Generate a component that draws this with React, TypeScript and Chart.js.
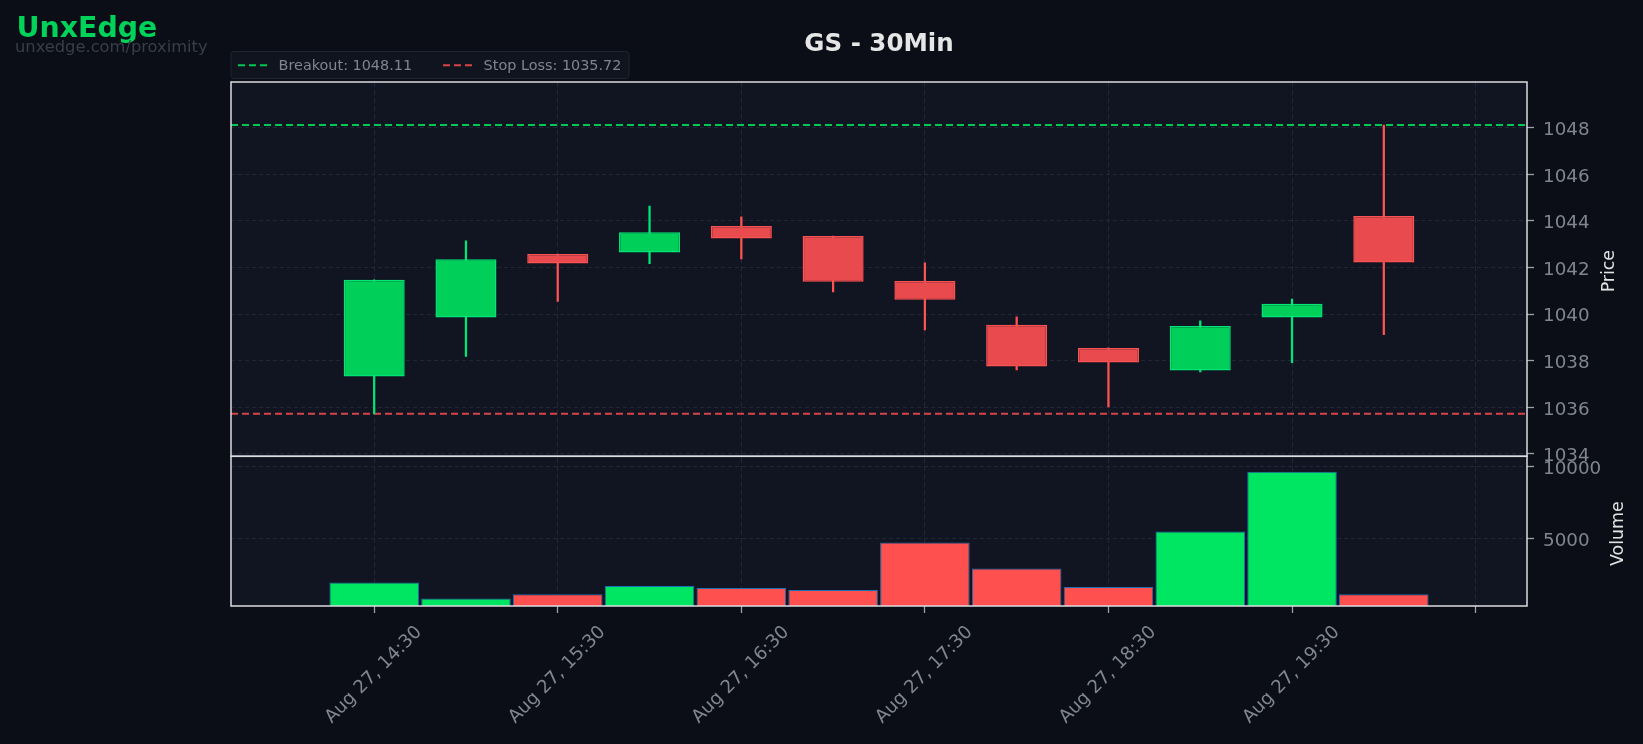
import React, { useEffect, useRef } from 'react';
import { Chart, registerables } from 'chart.js';

Chart.register(...registerables);

// ---- data ----
const categories = [
  'Aug 27, 14:30', 'Aug 27, 15:00', 'Aug 27, 15:30', 'Aug 27, 16:00',
  'Aug 27, 16:30', 'Aug 27, 17:00', 'Aug 27, 17:30', 'Aug 27, 18:00',
  'Aug 27, 18:30', 'Aug 27, 19:00', 'Aug 27, 19:30', 'Aug 27, 20:00',
];
const opens = [1037.32, 1039.85, 1042.58, 1042.64, 1043.78, 1043.35, 1041.42, 1039.54, 1038.55, 1037.58, 1039.85, 1044.21];
const highs = [1041.47, 1043.14, 1042.58, 1044.64, 1044.17, 1043.35, 1042.2, 1039.88, 1038.55, 1039.71, 1040.65, 1048.11];
const lows = [1035.72, 1038.18, 1040.54, 1042.17, 1042.37, 1040.95, 1039.32, 1037.61, 1036.02, 1037.52, 1037.92, 1039.12];
const closes = [1041.47, 1042.35, 1042.17, 1043.51, 1043.24, 1041.39, 1040.62, 1037.75, 1037.92, 1039.49, 1040.44, 1042.21];
const volumes = [1970, 860, 1140, 1715, 1575, 1440, 4750, 2945, 1645, 5515, 9675, 1140];

const tickPositions = [0, 2, 4, 6, 8, 10, 12];
const tickLabels = ['Aug 27, 14:30', 'Aug 27, 15:30', 'Aug 27, 16:30', 'Aug 27, 17:30', 'Aug 27, 18:30', 'Aug 27, 19:30', ''];
const priceTicks = [1034, 1036, 1038, 1040, 1042, 1044, 1046, 1048];
const volumeTicks = [5000, 10000];
const breakout = 1048.11;
const stopLoss = 1035.72;
const chartTitle = 'GS - 30Min';
const brand = 'UnxEdge';
const brandUrl = 'unxedge.com/proximity';

// ---- style ----
const W = 1643;
const H = 744;
const FONT = '"DejaVu Sans", "Noto Sans", sans-serif';
const BG = '#0b0e17';
const PANEL = '#111522';
const GRID = '#222736';
const TICK_TEXT = '#80858f';
const FRAME = '#dcdde0';
const GREEN_FILL = '#00d05a';
const GREEN_EDGE = '#00e676';
const RED_FILL = '#e84a4d';
const RED_EDGE = '#ff5252';
const VOL_GREEN = '#00e663';
const VOL_RED = '#ff5050';

export default function App() {
  const ref = useRef<HTMLCanvasElement | null>(null);

  useEffect(() => {
    document.body.style.margin = '0';
    document.body.style.background = BG;
    const canvas = ref.current;
    if (!canvas) return;
    const up = closes.map((c, i) => c >= opens[i]);

    const decor = {
      id: 'decor',
      beforeDraw(chart: any) {
        const { ctx, chartArea } = chart;
        ctx.save();
        ctx.fillStyle = BG;
        ctx.fillRect(0, 0, W, H);
        ctx.fillStyle = PANEL;
        ctx.fillRect(chartArea.left, chartArea.top, chartArea.right - chartArea.left, chartArea.bottom - chartArea.top);
        ctx.restore();
      },
      beforeDatasetsDraw(chart: any) {
        const { ctx, chartArea } = chart;
        const y = chart.scales.y;
        ctx.save();
        ctx.lineWidth = 2;
        ctx.setLineDash([7, 4]);
        ctx.strokeStyle = '#00c853';
        let py = y.getPixelForValue(breakout);
        ctx.beginPath();
        ctx.moveTo(chartArea.left, py);
        ctx.lineTo(chartArea.right, py);
        ctx.stroke();
        ctx.strokeStyle = '#d64348';
        py = y.getPixelForValue(stopLoss);
        ctx.beginPath();
        ctx.moveTo(chartArea.left, py);
        ctx.lineTo(chartArea.right, py);
        ctx.stroke();
        ctx.restore();
      },
      afterDraw(chart: any) {
        const { ctx, chartArea } = chart;
        const y = chart.scales.y;
        const yv = chart.scales.yv;
        const x = chart.scales.x;
        ctx.save();
        // frames
        ctx.strokeStyle = FRAME;
        ctx.lineWidth = 1.5;
        ctx.strokeRect(chartArea.left, y.top, chartArea.right - chartArea.left, y.bottom - y.top);
        ctx.strokeRect(chartArea.left, yv.top, chartArea.right - chartArea.left, yv.bottom - yv.top);

        // x tick labels (rotated, centered)
        ctx.fillStyle = TICK_TEXT;
        ctx.font = `18.2px ${FONT}`;
        ctx.textAlign = 'center';
        ctx.textBaseline = 'middle';
        tickPositions.forEach((p, i) => {
          const label = tickLabels[i];
          if (!label) return;
          const px = x.getPixelForValue(p);
          ctx.save();
          ctx.translate(px - 0.5, 675);
          ctx.rotate(-Math.PI / 4);
          ctx.fillText(label, 0, 0);
          ctx.restore();
        });

        // axis titles
        ctx.fillStyle = '#e2e2e2';
        ctx.font = `17.4px ${FONT}`;
        ctx.save();
        ctx.translate(1609.5, (y.top + y.bottom) / 2 + 2);
        ctx.rotate(-Math.PI / 2);
        ctx.fillText('Price', 0, 0);
        ctx.restore();
        ctx.save();
        ctx.translate(1618.5, (yv.top + yv.bottom) / 2 + 2.5);
        ctx.rotate(-Math.PI / 2);
        ctx.fillText('Volume', 0, 0);
        ctx.restore();

        // title
        ctx.textBaseline = 'alphabetic';
        ctx.fillStyle = '#e6e6e6';
        ctx.font = `bold 24.5px ${FONT}`;
        ctx.fillText(chartTitle, (chartArea.left + chartArea.right) / 2, 50.5);

        // brand
        ctx.textAlign = 'left';
        ctx.fillStyle = '#00d25a';
        ctx.font = `bold 28.4px ${FONT}`;
        ctx.fillText(brand, 16.5, 36.7);
        ctx.fillStyle = '#393e4a';
        ctx.font = `16.3px ${FONT}`;
        ctx.fillText(brandUrl, 15, 51.5);

        // legend box
        ctx.fillStyle = '#10141e';
        ctx.strokeStyle = '#1f2432';
        ctx.lineWidth = 1;
        ctx.beginPath();
        (ctx as any).roundRect(231, 51.5, 398, 27, 3);
        ctx.fill();
        ctx.stroke();
        ctx.lineWidth = 2;
        ctx.setLineDash([7, 4]);
        ctx.strokeStyle = '#00c853';
        ctx.beginPath();
        ctx.moveTo(238, 65.3);
        ctx.lineTo(267, 65.3);
        ctx.stroke();
        ctx.strokeStyle = '#d64348';
        ctx.beginPath();
        ctx.moveTo(443, 65.3);
        ctx.lineTo(472, 65.3);
        ctx.stroke();
        ctx.setLineDash([]);
        ctx.fillStyle = '#7f8591';
        ctx.font = `14.4px ${FONT}`;
        ctx.fillText(`Breakout: ${breakout.toFixed(2)}`, 278.6, 70);
        ctx.fillText(`Stop Loss: ${stopLoss.toFixed(2)}`, 483.6, 70);
        ctx.restore();
      },
    };

    const gridCommon = {
      color: GRID,
      lineWidth: 1,
      drawTicks: true,
      tickLength: 7,
      tickColor: '#9aa0aa',
      tickWidth: 1.3,
      tickBorderDash: [],
      offset: false,
    };

    const chart = new Chart(canvas, {
      type: 'bar',
      data: {
        datasets: [
          {
            label: 'wick',
            data: categories.map((_, i) => ({ x: i, y: [lows[i], highs[i]] })) as any,
            backgroundColor: up.map((u) => (u ? GREEN_EDGE : RED_EDGE)),
            borderWidth: 0,
            barThickness: 1.6,
            grouped: false,
            order: 2,
            xAxisID: 'x',
            yAxisID: 'y',
          } as any,
          {
            label: 'body',
            data: categories.map((_, i) => ({ x: i, y: [opens[i], closes[i]] })) as any,
            backgroundColor: up.map((u) => (u ? GREEN_FILL : RED_FILL)),
            borderColor: up.map((u) => (u ? GREEN_EDGE : RED_EDGE)),
            borderWidth: 1.5,
            borderSkipped: false,
            barPercentage: 0.665,
            categoryPercentage: 1,
            grouped: false,
            order: 1,
            xAxisID: 'x',
            yAxisID: 'y',
          } as any,
          {
            label: 'volume',
            data: categories.map((_, i) => ({ x: i, y: volumes[i] })) as any,
            backgroundColor: up.map((u) => (u ? VOL_GREEN : VOL_RED)),
            borderColor: '#1f6fb4',
            borderWidth: 1,
            borderSkipped: false,
            barPercentage: 0.976,
            categoryPercentage: 1,
            grouped: false,
            order: 3,
            xAxisID: 'x',
            yAxisID: 'yv',
          } as any,
        ],
      },
      options: {
        responsive: false,
        animation: false,
        devicePixelRatio: 1,
        events: [],
        layout: { padding: { left: 231, top: 82, right: 0, bottom: 0 } },
        plugins: { legend: { display: false }, tooltip: { enabled: false }, title: { display: false } },
        scales: {
          x: {
            type: 'linear',
            position: 'bottom',
            offset: false,
            min: -1.56,
            max: 12.56,
            afterBuildTicks: (s: any) => {
              s.ticks = tickPositions.map((v) => ({ value: v }));
            },
            afterFit: (s: any) => {
              s.height = H - 606;
            },
            ticks: { display: false },
            grid: gridCommon,
            border: { display: false, dash: [5, 3] },
          },
          y: {
            type: 'linear',
            position: 'right',
            stack: 'panels',
            stackWeight: 2.5,
            offset: false,
            min: 1033.9,
            max: 1049.96,
            afterBuildTicks: (s: any) => {
              s.ticks = priceTicks.map((v) => ({ value: v }));
            },
            afterFit: (s: any) => {
              s.width = W - 1527;
            },
            ticks: {
              color: TICK_TEXT,
              font: { family: FONT, size: 18.3 },
              padding: 9,
              labelOffset: 2.5,
              autoSkip: false,
              callback: (v: any) => String(v),
            },
            grid: gridCommon,
            border: { display: false, dash: [4, 3] },
          },
          yv: {
            type: 'linear',
            position: 'right',
            stack: 'panels',
            stackWeight: 1,
            offset: false,
            min: 330,
            max: 10743,
            afterBuildTicks: (s: any) => {
              s.ticks = volumeTicks.map((v) => ({ value: v }));
            },
            afterFit: (s: any) => {
              s.width = W - 1527;
            },
            ticks: {
              color: TICK_TEXT,
              font: { family: FONT, size: 18.3 },
              padding: 9,
              labelOffset: 2.5,
              autoSkip: false,
              callback: (v: any) => String(v),
            },
            grid: gridCommon,
            border: { display: false, dash: [4, 3] },
          },
        } as any,
      },
      plugins: [decor],
    });

    return () => {
      chart.destroy();
    };
  }, []);

  return (
    <div style={{ width: W, height: H, position: 'relative', background: BG }}>
      <canvas ref={ref} width={W} height={H} style={{ display: 'block', width: W, height: H }} />
    </div>
  );
}
